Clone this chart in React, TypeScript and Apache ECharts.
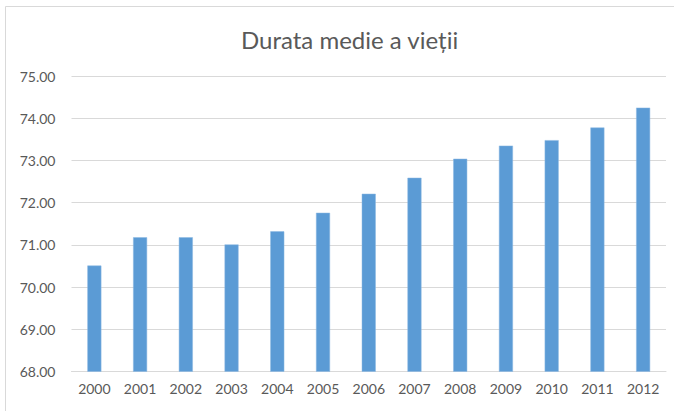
import React, { useEffect, useRef } from "react";
import * as echarts from "echarts";

const years = ["2000", "2001", "2002", "2003", "2004", "2005", "2006", "2007", "2008", "2009", "2010", "2011", "2012"];
const lifeExpectancy = [70.51, 71.18, 71.18, 71.01, 71.32, 71.76, 72.21, 72.59, 73.04, 73.35, 73.48, 73.78, 74.25];
const titleText = "Durata medie a vieții";

export default function App() {
  const ref = useRef<HTMLDivElement>(null);
  useEffect(() => {
    document.body.style.margin = "0";
    const chart = echarts.init(ref.current!, null, { renderer: "svg" });
    chart.setOption({
      animation: false,
      backgroundColor: "#ffffff",
      title: {
        text: titleText,
        left: 236,
        top: 22,
        textStyle: { fontFamily: "Lato", fontSize: 24, fontWeight: "normal", color: "#595959" },
      },
      graphic: [
        {
          type: "rect",
          shape: { x: 5.5, y: 6.5, width: 700, height: 420 },
          style: { fill: "none", stroke: "#d9d9d9", lineWidth: 1 },
          silent: true,
        },
      ],
      grid: { left: 71.5, right: 8, top: 76, bottom: 39.5 },
      xAxis: {
        type: "category",
        data: years,
        axisLine: { show: true, lineStyle: { color: "#d9d9d9", width: 1 } },
        axisTick: { show: false },
        axisLabel: { fontFamily: "Lato", fontSize: 14, color: "#595959", margin: 10 },
      },
      yAxis: {
        type: "value",
        min: 68,
        max: 75,
        interval: 1,
        axisLine: { show: false },
        axisTick: { show: false },
        axisLabel: {
          fontFamily: "Lato",
          fontSize: 14,
          color: "#595959",
          margin: 16,
          formatter: (v: number) => v.toFixed(2),
        },
        splitLine: { lineStyle: { color: "#d9d9d9", width: 1 } },
      },
      series: [
        {
          type: "bar",
          data: lifeExpectancy,
          barWidth: 14,
          itemStyle: { color: "#5b9bd5", borderColor: "#8cb9e3", borderWidth: 0.5 },
        },
      ],
    });
    return () => chart.dispose();
  }, []);
  return <div ref={ref} style={{ width: 674, height: 411 }} />;
}
